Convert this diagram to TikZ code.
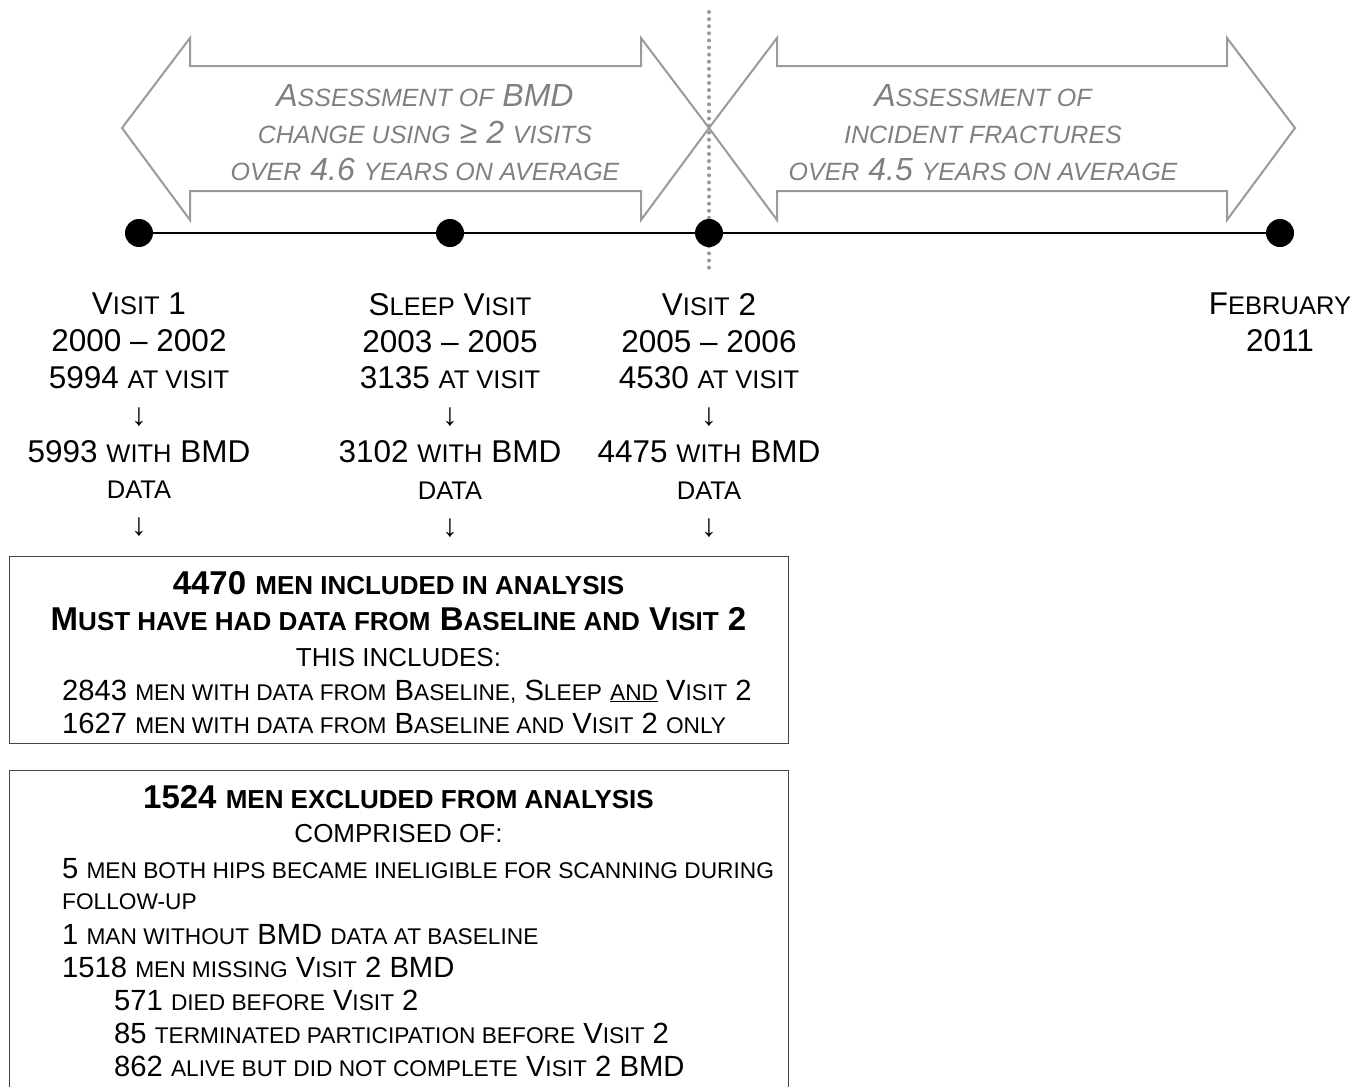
\documentclass[tikz,border=0pt]{standalone}
\usepackage{fontspec}
\setmainfont{Liberation Sans}
\def\smsize{25}
\newcommand\sm[1]{{\fontsize{\smsize}{\smsize}\selectfont #1}}
\definecolor{arrgray}{HTML}{9A9A9A}
\definecolor{txtgray}{HTML}{808080}
\definecolor{dotgray}{HTML}{999999}
\definecolor{boxline}{HTML}{444444}
\tikzset{
  dot/.style={circle,fill=black,inner sep=0pt,minimum size=28pt},
  lbl/.style={align=center,inner sep=0pt,anchor=north,
    font={\def\smsize{25.5}\fontsize{31.5}{36.8}\selectfont}},
  arrtxt/.style={align=center,inner sep=0pt,anchor=north,text=txtgray,
    font={\def\smsize{25}\fontsize{32}{37}\selectfont\itshape}},
  bigarrow/.style={draw=arrgray,line width=2pt,line join=miter},
  boxfr/.style={draw=boxline,line width=1pt,inner sep=0pt},
  btitle/.style={inner sep=0pt,anchor=base,
    font={\def\smsize{26}\fontsize{33}{33}\selectfont\bfseries}},
  bline/.style={inner sep=0pt,anchor=base,
    font={\def\smsize{22.7}\fontsize{29.2}{30}\selectfont}},
  bsub/.style={inner sep=0pt,anchor=base,
    font={\def\smsize{26}\fontsize{26}{30}\selectfont}},
}
\begin{document}
\begin{tikzpicture}[x=1pt,y=-1pt]
\useasboundingbox (0,0) rectangle (1369,1087);
\fill[white] (0,0) rectangle (1369,1087);

% big double arrows
\draw[bigarrow] (122,128) -- (190,38) -- (190,66) -- (641,66) -- (641,38) -- (709,128)
  -- (641,220) -- (641,191) -- (190,191) -- (190,220) -- cycle;
\draw[bigarrow] (709,128) -- (777,38) -- (777,66) -- (1227,66) -- (1227,38) -- (1295,128)
  -- (1227,220) -- (1227,191) -- (777,191) -- (777,220) -- cycle;

% dotted divider
\coordinate (dtop) at (709,12);
\coordinate (dbot) at (709,268);
\draw[dotgray,line width=4pt,line cap=round,dash pattern=on 0pt off 7.1pt] (dtop) -- (dbot);

% arrow texts
\node[arrtxt] (a1) at (425,84.5) {A\sm{SSESSMENT OF} BMD\\ \sm{CHANGE USING} ≥ 2 \sm{VISITS}\\ \sm{OVER} 4.6 \sm{YEARS ON AVERAGE}};
\node[arrtxt] (a2) at (983,84.5) {A\sm{SSESSMENT OF}\\ \sm{INCIDENT FRACTURES}\\ \sm{OVER} 4.5 \sm{YEARS ON AVERAGE}};

% timeline
\node[dot] (d1) at (139,233) {};
\node[dot] (d2) at (450,233) {};
\node[dot] (d3) at (709,233) {};
\node[dot] (d4) at (1280,233) {};
\draw[line width=2.5pt] (d1) -- (d2);
\draw[line width=2.5pt] (d2) -- (d3);
\draw[line width=2.5pt] (d3) -- (d4);

% labels
\node[lbl] (l1) at (139,293) {V\sm{ISIT} 1\\2000 – 2002\\5994 \sm{AT VISIT}\\↓\\5993 \sm{WITH} BMD\\ \sm{DATA}\\↓};
\node[lbl] (l2) at (450,293) {S\sm{LEEP} V\sm{ISIT}\\2003 – 2005\\3135 \sm{AT VISIT}\\↓\\3102 \sm{WITH} BMD\\ \sm{DATA}\\↓};
\node[lbl] (l3) at (709,293) {V\sm{ISIT} 2\\2005 – 2006\\4530 \sm{AT VISIT}\\↓\\4475 \sm{WITH} BMD\\ \sm{DATA}\\↓};
\node[lbl] (l4) at (1280,293) {F\sm{EBRUARY}\\2011};

% box 1
\node[boxfr,minimum width=779pt,minimum height=187pt] (box1) at (398.5,649.5) {};
\node[btitle] (b1t1) at (398.5,594) {4470 \sm{MEN INCLUDED IN ANALYSIS}};
\node[btitle] (b1t2) at (398.5,630) {M\sm{UST HAVE HAD DATA FROM} B\sm{ASELINE AND} V\sm{ISIT} 2};
\node[bsub] (b1t3) at (398.5,666) {THIS INCLUDES:};
\node[bline,anchor=base west] (b1t4) at (62,700) {2843 \sm{MEN WITH DATA FROM} B\sm{ASELINE,} S\sm{LEEP} \underline{\sm{AND}} V\sm{ISIT} 2};
\node[bline,anchor=base west] (b1t5) at (62,733) {1627 \sm{MEN WITH DATA FROM} B\sm{ASELINE AND} V\sm{ISIT} 2 \sm{ONLY}};

% box 2
\begin{scope}
\clip (0,0) rectangle (1369,1087);
\node[boxfr,minimum width=779pt,minimum height=340pt] (box2) at (398.5,940) {};
\end{scope}
\node[btitle] (b2t1) at (398.5,808) {1524 \sm{MEN EXCLUDED FROM ANALYSIS}};
\node[bsub] (b2t2) at (398.5,842) {COMPRISED OF:};
\node[bline,anchor=base west] (b2t3) at (62,878) {5 \sm{MEN BOTH HIPS BECAME INELIGIBLE FOR SCANNING DURING}};
\node[bline,anchor=base west] (b2t4) at (62,909) {\sm{FOLLOW-UP}};
\node[bline,anchor=base west] (b2t5) at (62,944) {1 \sm{MAN WITHOUT} BMD \sm{DATA AT BASELINE}};
\node[bline,anchor=base west] (b2t6) at (62,977) {1518 \sm{MEN MISSING} V\sm{ISIT} 2 BMD};
\node[bline,anchor=base west] (b2t7) at (114,1010) {571 \sm{DIED BEFORE} V\sm{ISIT} 2};
\node[bline,anchor=base west] (b2t8) at (114,1043) {85 \sm{TERMINATED PARTICIPATION BEFORE} V\sm{ISIT} 2};
\node[bline,anchor=base west] (b2t9) at (114,1076) {862 \sm{ALIVE BUT DID NOT COMPLETE} V\sm{ISIT} 2 BMD};
\end{tikzpicture}
\end{document}
